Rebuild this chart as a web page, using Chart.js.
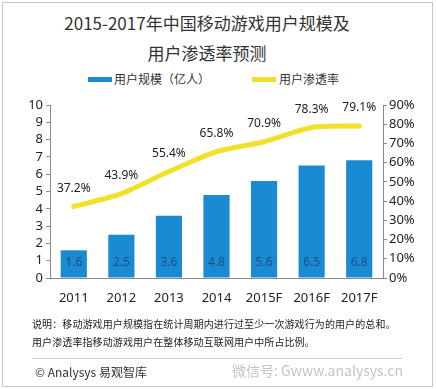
<!DOCTYPE html>
<html>
<head>
<meta charset="utf-8">
<script src="https://cdn.jsdelivr.net/npm/chart.js@4.4.0/dist/chart.umd.min.js"></script>
<style>
  body { margin: 0; background: #fff; font-family: "Noto Sans CJK SC", "Noto Sans", sans-serif; }
  #wrap { position: relative; width: 436px; height: 389px; overflow: hidden; }
  #frame { position: absolute; left: 2px; top: 2px; width: 429px; height: 383px; border: 1px solid #c8c8c8; }
  .t { position: absolute; white-space: nowrap; color: #222; }
  #chartBox { position: absolute; left: 0; top: 92px; width: 436px; height: 225px; }
  .sw { position: absolute; height: 5px; width: 24px; }
</style>
</head>
<body>
<div id="wrap">
  <div id="frame"></div>
  <div class="t" style="left:0;width:414px;text-align:center;top:10px;font-size:17px;color:#333;">2015-2017年中国移动游戏用户规模及</div>
  <div class="t" style="left:0;width:414px;text-align:center;top:40px;font-size:17px;color:#333;">用户渗透率预测</div>

  <div class="sw" style="left:88px;top:77px;background:#1a8ad2;"></div>
  <div class="t" style="left:114px;top:70px;font-size:12px;color:#333;">用户规模（亿人）</div>
  <div class="sw" style="left:252px;top:77px;background:#f2e02a;"></div>
  <div class="t" style="left:279px;top:70px;font-size:12px;color:#333;">用户渗透率</div>

  <div id="chartBox"><canvas id="myChart"></canvas></div>

  <div class="t" style="left:32px;top:316px;font-size:10px;letter-spacing:0.1px;">说明：移动游戏用户规模指在统计周期内进行过至少一次游戏行为的用户的总和。</div>
  <div class="t" style="left:32px;top:334px;font-size:10px;letter-spacing:0.1px;">用户渗透率指移动游戏用户在整体移动互联网用户中所占比例。</div>
  <div style="position:absolute;left:32px;top:358px;width:370px;height:1px;background:#cfcfcf;"></div>
  <div class="t" style="left:35px;top:363px;font-size:12px;color:#333;">© Analysys 易观智库</div>
  <div class="t" style="left:232px;top:360px;font-size:14px;color:#c4c4c4;">微信号: Gwww.analysys.cn</div>
</div>

<script>
const categories = ["2011", "2012", "2013", "2014", "2015F", "2016F", "2017F"];
const userScale = [1.6, 2.5, 3.6, 4.8, 5.6, 6.5, 6.8];
const penetration = [37.2, 43.9, 55.4, 65.8, 70.9, 78.3, 79.1];
const leftTicks = [0, 1, 2, 3, 4, 5, 6, 7, 8, 9, 10];
const rightTicks = [0, 10, 20, 30, 40, 50, 60, 70, 80, 90];

const axisColor = "#8a8a8a";
const tickFont = { family: "'Noto Sans', 'DejaVu Sans', sans-serif", size: 13 };

// draws value labels: inside bars and above line points
const valueLabels = {
  id: "valueLabels",
  afterDatasetsDraw(chart) {
    const ctx = chart.ctx;
    ctx.save();
    ctx.textAlign = "center";
    ctx.textBaseline = "middle";
    ctx.font = "12px 'Noto Sans', sans-serif";
    chart.getDatasetMeta(0).data.forEach((bar, i) => {
      ctx.fillStyle = "#1d4f86";
      ctx.fillText(userScale[i].toFixed(1), bar.x, bar.base - 15);
    });
    chart.getDatasetMeta(1).data.forEach((pt, i) => {
      ctx.fillStyle = "#222";
      ctx.fillText(penetration[i].toFixed(1) + "%", pt.x, pt.y - 18);
    });
    ctx.restore();
  },
};

const ctx = document.getElementById("myChart").getContext("2d");
const myChart = new Chart(ctx, {
  type: "bar",
  data: {
    labels: categories,
    datasets: [
      {
        type: "bar",
        label: "用户规模（亿人）",
        data: userScale,
        backgroundColor: "#1a8ad2",
        barPercentage: 0.55,
        categoryPercentage: 1,
        yAxisID: "y",
        order: 2,
      },
      {
        type: "line",
        label: "用户渗透率",
        data: penetration,
        borderColor: "#f2e02a",
        borderWidth: 5,
        pointRadius: 0,
        tension: 0.25,
        borderCapStyle: "round",
        yAxisID: "y1",
        order: 1,
      },
    ],
  },
  options: {
    responsive: true,
    maintainAspectRatio: false,
    animation: false,
    layout: { padding: { left: 14, right: 8, top: 13, bottom: 15 } },
    plugins: { legend: { display: false }, tooltip: { enabled: false } },
    scales: {
      x: {
        grid: { display: false },
        border: { display: true, color: axisColor },
        ticks: { color: "#222", font: tickFont, padding: 4, maxRotation: 0, autoSkip: false },
        afterFit(scale) { scale.height = 24; },
      },
      y: {
        position: "left",
        min: 0,
        max: 10,
        afterBuildTicks(scale) { scale.ticks = leftTicks.map((v) => ({ value: v })); },
        grid: { drawOnChartArea: false, drawTicks: true, tickLength: 4, color: axisColor },
        border: { color: axisColor },
        ticks: { color: "#222", font: tickFont, padding: 3, autoSkip: false },
        afterFit(scale) { scale.width = 36; },
      },
      y1: {
        position: "right",
        min: 0,
        max: 90,
        afterBuildTicks(scale) { scale.ticks = rightTicks.map((v) => ({ value: v })); },
        grid: { drawOnChartArea: false, drawTicks: true, tickLength: 4, color: axisColor },
        border: { color: axisColor },
        ticks: { color: "#222", font: tickFont, padding: 2, autoSkip: false, callback: (v) => v + "%" },
        afterFit(scale) { scale.width = 45; },
      },
    },
  },
  plugins: [valueLabels],
});
</script>
</body>
</html>
